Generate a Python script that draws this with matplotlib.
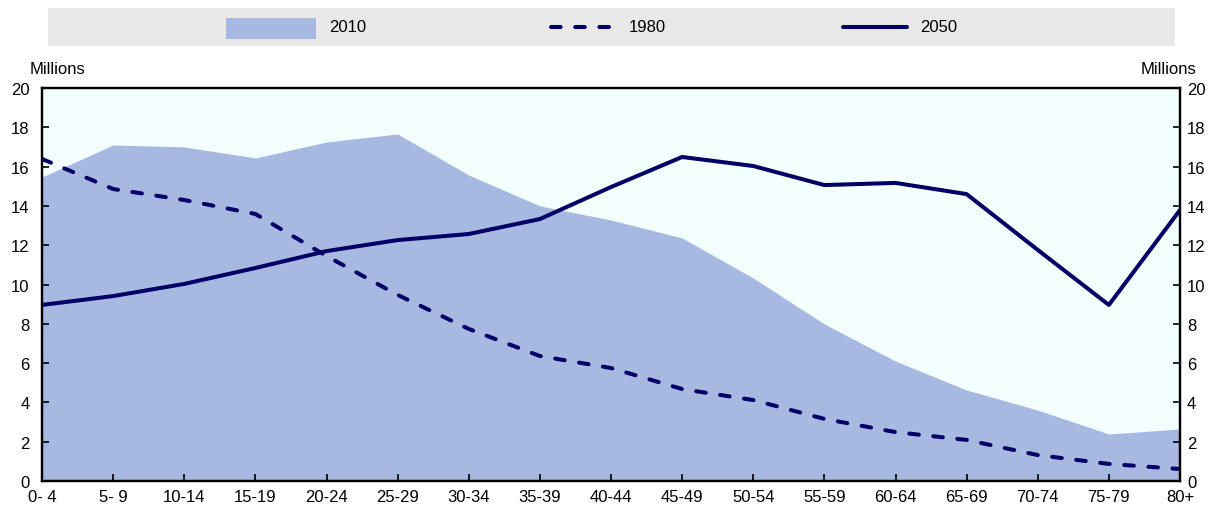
import numpy as np
import matplotlib.pyplot as plt
from matplotlib.patches import Rectangle

ages = ['0- 4', '5- 9', '10-14', '15-19', '20-24', '25-29', '30-34', '35-39',
        '40-44', '45-49', '50-54', '55-59', '60-64', '65-69', '70-74', '75-79', '80+']
pop2010 = [15.47, 17.1, 17.0, 16.44, 17.25, 17.66, 15.57, 14.0, 13.28, 12.37,
           10.33, 7.99, 6.1, 4.63, 3.61, 2.39, 2.65]
pop1980 = [16.39, 14.86, 14.3, 13.59, 11.45, 9.47, 7.74, 6.36, 5.75, 4.68,
           4.12, 3.16, 2.49, 2.09, 1.32, 0.87, 0.61]
pop2050 = [8.96, 9.41, 10.03, 10.84, 11.7, 12.26, 12.57, 13.33, 14.96, 16.49,
           16.03, 15.06, 15.17, 14.6, 11.76, 8.96, 13.79]

navy = '#000066'
area_col = '#a7b8e1'
dash = (0, (2.4, 3.6))
lw = 2.9
fs = 12

plt.rcParams['font.family'] = ['Liberation Sans', 'DejaVu Sans']
plt.rcParams['font.size'] = fs

fig = plt.figure(figsize=(12.13, 5.06), dpi=100)
ax = fig.add_axes([42/1213, 1-482/506, (1180-42)/1213, (482-89)/506])
ax.set_facecolor('#f3ffff')

x = np.arange(len(ages))
ax.fill_between(x, pop2010, 0, color=area_col, linewidth=0, zorder=1)
ax.plot(x, pop1980, color=navy, lw=lw, ls=dash, dash_capstyle='round', zorder=3)
ax.plot(x, pop2050, color=navy, lw=lw, solid_capstyle='round', zorder=3)

ax.set_xlim(0, len(ages)-1)
ax.set_ylim(0, 20)
ax.set_xticks(x)
ax.set_xticklabels(ages)
ax.set_yticks(range(0, 21, 2))
ax.tick_params(axis='both', direction='in', length=5, width=1.2, labelsize=fs)
ax.tick_params(axis='y', pad=9)
ax.tick_params(axis='x', pad=6)
for s in ax.spines.values():
    s.set_linewidth(1.6)

# right-hand scale
ax2 = ax.twinx()
ax2.set_ylim(0, 20)
ax2.set_yticks(range(0, 21, 2))
ax2.tick_params(axis='y', direction='in', length=5, width=1.2, labelsize=fs, pad=5)
for s in ax2.spines.values():
    s.set_linewidth(1.6)

fig.text(30/1213, 1-70/506, 'Millions', fontsize=fs, va='center', ha='left')
fig.text(1196/1213, 1-70/506, 'Millions', fontsize=fs, va='center', ha='right')

# legend strip, laid out in pixel coordinates
lax = fig.add_axes([48/1213, 1-47/506, (1175-48)/1213, 38/506])
lax.set_facecolor('#e8e8e8')
lax.set_xlim(48, 1175)
lax.set_ylim(47, 9)
lax.set_xticks([])
lax.set_yticks([])
for s in lax.spines.values():
    s.set_visible(False)
lax.add_patch(Rectangle((226, 19), 90, 21, facecolor=area_col, edgecolor='none'))
lax.text(329, 28, '2010', va='center', ha='left', fontsize=fs)
lax.plot([551, 612], [28, 28], color=navy, lw=lw, ls=dash, dash_capstyle='round')
lax.text(629, 28, '1980', va='center', ha='left', fontsize=fs)
lax.plot([843, 907], [28, 28], color=navy, lw=lw, solid_capstyle='round')
lax.text(920, 28, '2050', va='center', ha='left', fontsize=fs)

fig.savefig('out.png', dpi=100)
